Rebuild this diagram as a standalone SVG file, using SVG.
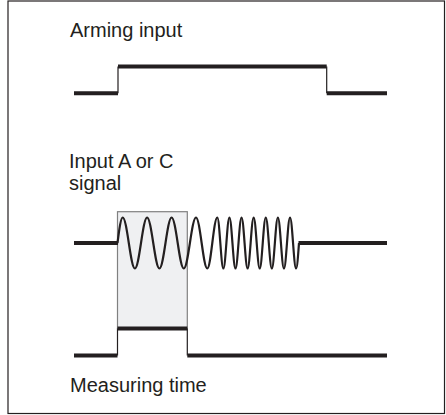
<svg xmlns="http://www.w3.org/2000/svg" width="446" height="415" viewBox="0 0 446 415">
<style>
.lbl{font-family:"Liberation Sans",Arial,Helvetica,sans-serif;font-size:20px;fill:#231f20}
.thick{stroke:#231f20;stroke-width:4;fill:none;stroke-linecap:butt}
.thin{stroke:#231f20;stroke-width:1.2;fill:none}
.wave{stroke:#231f20;stroke-width:2.2;fill:none;stroke-linejoin:round}
</style>
<rect x="8" y="1" width="436.5" height="412.5" fill="#ffffff" stroke="#231f20" stroke-width="1.2"/>
<g id="window">
<rect x="117.5" y="211.7" width="69.8" height="116.8" fill="#eff0f2" stroke="#808080" stroke-width="1.2"/>
</g>
<g id="arming">
<text class="lbl" x="70" y="37">Arming input</text>
<path class="thick" d="M74,93.3 H118 M118,66.5 H326.7 M326.7,93.3 H387"/>
<path class="thin" d="M118,93.3 V66.5 M326.7,66.5 V93.3"/>
</g>
<g id="signal">
<text class="lbl" x="69" y="168">Input A or C</text>
<text class="lbl" x="69" y="190">signal</text>
<path class="thick" d="M74,243 H118 M298.5,243 H387"/>
<path class="wave" d="M117.5,243 C119.2,229.9 120.8,217.5 122.7,217.5
C127.14,217.5 130.46,268.5 134.9,268.5
C139.34,268.5 142.66,217.5 147.1,217.5
C151.54,217.5 154.96,268.5 159.4,268.5
C163.84,268.5 167.16,217.5 171.6,217.5
C176.04,217.5 179.36,268.5 183.8,268.5
C188.24,268.5 191.56,217.5 196,217.5
C200.11,217.5 203.19,268.5 207.3,268.5
C210.93,268.5 213.67,217.5 217.3,217.5
C219.5,217.5 221.16,268.5 223.36,268.5
C225.56,268.5 227.22,217.5 229.42,217.5
C231.62,217.5 233.28,268.5 235.48,268.5
C237.68,268.5 239.34,217.5 241.54,217.5
C243.74,217.5 245.4,268.5 247.6,268.5
C249.8,268.5 251.46,217.5 253.66,217.5
C255.86,217.5 257.52,268.5 259.72,268.5
C261.92,268.5 263.58,217.5 265.78,217.5
C267.98,217.5 269.64,268.5 271.84,268.5
C274.04,268.5 275.7,217.5 277.9,217.5
C280.1,217.5 281.76,268.5 283.96,268.5
C286.16,268.5 287.82,217.5 290.02,217.5
C292.22,217.5 293.88,268.5 296.08,268.5
C297.14,268.5 298.05,256 299,243"/>
</g>
<g id="measuring">
<path class="thick" d="M74,355.5 H117.5 M117.5,328.5 H187.3 M187.3,355.5 H387"/>
<path class="thin" d="M117.5,328.5 V355.5 M187.3,328.5 V355.5"/>
<text class="lbl" x="70" y="392">Measuring time</text>
</g>
</svg>
